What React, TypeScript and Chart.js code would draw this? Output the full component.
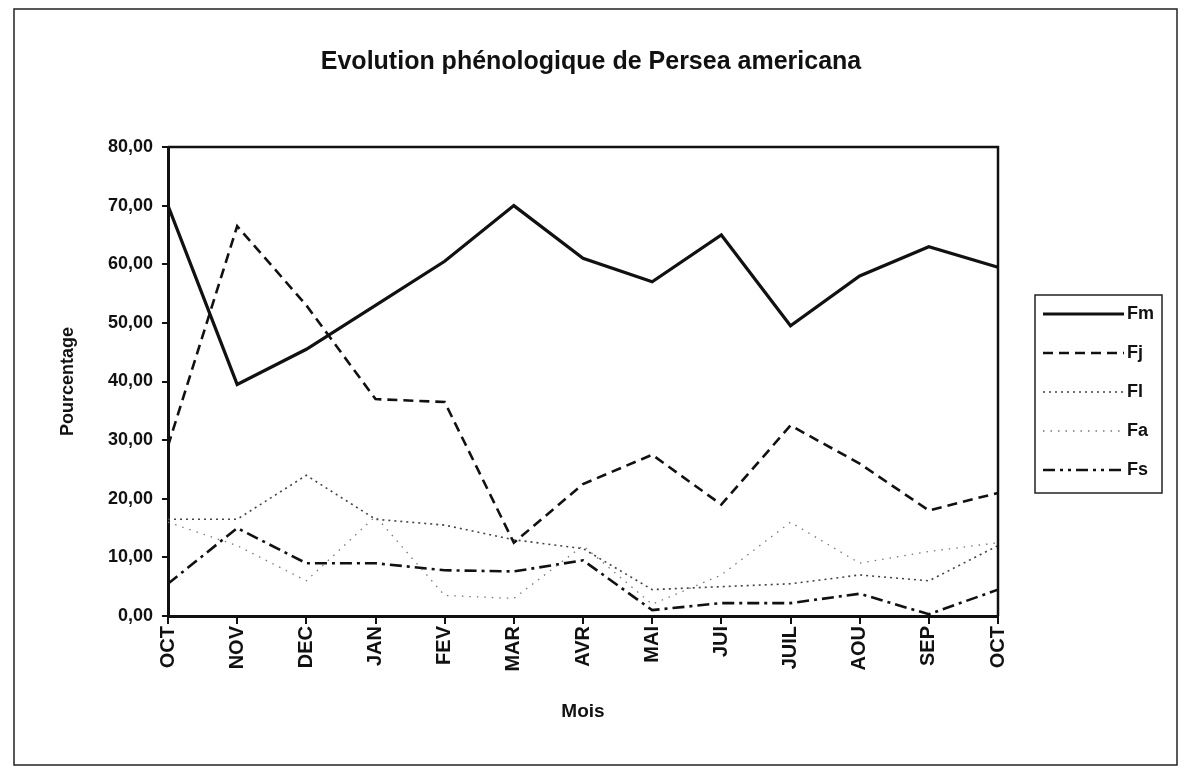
import React, { useEffect, useRef } from "react";
import { Chart, registerables } from "chart.js";

Chart.register(...registerables);

const months = ["OCT", "NOV", "DEC", "JAN", "FEV", "MAR", "AVR", "MAI", "JUI", "JUIL", "AOU", "SEP", "OCT"];
const fm = [70, 39.5, 45.5, 53, 60.5, 70, 61, 57, 65, 49.5, 58, 63, 59.5];
const fj = [29, 66.5, 53, 37, 36.5, 12.5, 22.5, 27.5, 19, 32.5, 26, 18, 21];
const fl = [16.5, 16.5, 24, 16.5, 15.5, 13, 11.5, 4.5, 5, 5.5, 7, 6, 12];
const fa = [16, 12, 6, 17, 3.5, 3, 12, 2, 7, 16, 9, 11, 12.5];
const fs = [5.5, 15, 9, 9, 7.8, 7.6, 9.5, 1, 2.2, 2.2, 3.8, 0.3, 4.5];

const titleText = "Evolution phénologique de Persea americana";
const yTitle = "Pourcentage";
const xTitle = "Mois";
const FONT = "'Liberation Sans', Arial, sans-serif";

const frameAndLegend = {
  id: "frameAndLegend",
  beforeDraw(chart: any) {
    const ctx = chart.ctx;
    ctx.save();
    ctx.fillStyle = "#ffffff";
    ctx.fillRect(0, 0, chart.width, chart.height);
    ctx.restore();
  },
  afterDraw(chart: any) {
    const ctx = chart.ctx;
    const a = chart.chartArea;
    ctx.save();
    // outer frame
    ctx.strokeStyle = "#222";
    ctx.lineWidth = 1.5;
    ctx.strokeRect(14, 9, 1163, 756);
    // plot border top/right
    ctx.strokeStyle = "#111";
    ctx.lineWidth = 2.5;
    ctx.beginPath();
    ctx.moveTo(a.left, a.top);
    ctx.lineTo(a.right, a.top);
    ctx.lineTo(a.right, a.bottom);
    ctx.stroke();
    // title
    ctx.fillStyle = "#111";
    ctx.font = `bold 25px ${FONT}`;
    ctx.textAlign = "center";
    ctx.textBaseline = "middle";
    ctx.fillText(titleText, 591, 62);
    // legend
    ctx.lineWidth = 1.5;
    ctx.strokeStyle = "#222";
    ctx.strokeRect(1035, 295, 127, 198);
    const ys = [314, 353, 392, 431, 470];
    chart.data.datasets.forEach((ds: any, i: number) => {
      const y = ys[i];
      ctx.save();
      ctx.strokeStyle = ds.borderColor;
      ctx.lineWidth = ds.borderWidth;
      ctx.setLineDash(ds.legendDash || ds.borderDash || []);
      ctx.beginPath();
      ctx.moveTo(1043, y);
      ctx.lineTo(1124, y);
      ctx.stroke();
      ctx.restore();
      ctx.fillStyle = "#111";
      ctx.font = `bold 18px ${FONT}`;
      ctx.textAlign = "left";
      ctx.textBaseline = "middle";
      ctx.fillText(ds.label, 1127, y);
    });
    ctx.restore();
  },
};

export default function App() {
  const ref = useRef<HTMLCanvasElement | null>(null);
  useEffect(() => {
    document.body.style.margin = "0";
    const canvas = ref.current!;
    const chart = new Chart(canvas, {
      type: "line",
      data: {
        labels: months,
        datasets: [
          { label: "Fm", data: fm, borderColor: "#111", borderWidth: 3.2, borderDash: [] },
          { label: "Fj", data: fj, borderColor: "#111", borderWidth: 2.6, borderDash: [10, 6] },
          { label: "Fl", data: fl, borderColor: "#444", borderWidth: 1.6, borderDash: [2, 4] },
          { label: "Fa", data: fa, borderColor: "#777", borderWidth: 1.3, borderDash: [1.5, 6] },
          { label: "Fs", data: fs, borderColor: "#111", borderWidth: 2.6, borderDash: [12, 5, 3, 5], legendDash: [12, 5, 3, 5, 3, 5] },
        ],
      } as any,
      options: {
        responsive: false,
        animation: false,
        devicePixelRatio: 1,
        elements: { point: { radius: 0, hoverRadius: 0 }, line: { tension: 0, fill: false } },
        layout: { padding: { left: 40, right: 188, top: 147, bottom: 20 } },
        plugins: { legend: { display: false }, tooltip: { enabled: false }, title: { display: false } },
        scales: {
          x: {
            type: "category",
            offset: false,
            afterFit: (s: any) => { s.height = 139; },
            grid: { display: true, drawOnChartArea: false, drawTicks: true, tickLength: 8, color: "#111", lineWidth: 2 },
            border: { display: true, color: "#111", width: 3 },
            ticks: {
              autoSkip: false,
              maxRotation: 90,
              minRotation: 90,
              padding: 2,
              color: "#111",
              font: { family: FONT, size: 20, weight: "bold" },
            },
            title: {
              display: true,
              text: xTitle,
              color: "#111",
              font: { family: FONT, size: 19, weight: "bold" },
              padding: { top: 0, bottom: 32 },
            },
          },
          y: {
            min: 0,
            max: 80,
            afterFit: (s: any) => { s.width = 128; },
            grid: { display: true, drawOnChartArea: false, drawTicks: true, tickLength: 6, color: "#111", lineWidth: 2 },
            border: { display: true, color: "#111", width: 3 },
            ticks: {
              stepSize: 10,
              padding: 9,
              color: "#111",
              font: { family: FONT, size: 18, weight: "bold" },
              callback: (v: any) => Number(v).toFixed(2).replace(".", ","),
            },
            title: {
              display: true,
              text: yTitle,
              color: "#111",
              font: { family: FONT, size: 18, weight: "bold" },
              padding: { top: 17, bottom: 0 },
            },
          },
        },
      },
      plugins: [frameAndLegend],
    });
    return () => chart.destroy();
  }, []);
  return (
    <div style={{ width: 1186, height: 775 }}>
      <canvas ref={ref} width={1186} height={775} style={{ width: 1186, height: 775, display: "block" }} />
    </div>
  );
}
